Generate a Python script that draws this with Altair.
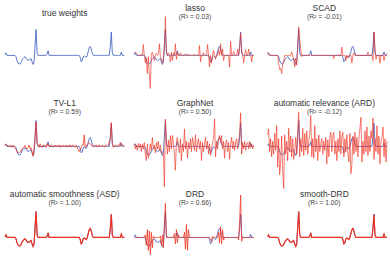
import altair as alt
import pandas as pd

BLUE = "#4a68c4"
RED = "#f0301e"

true_weights = [
    0.03, 0.1, 0.0, 0, 0, 0, 0, 0, 0, 0,
    0, -0.05, -0.2, -0.3, -0.33, -0.33, -0.28, -0.18, -0.12, -0.08,
    -0.05, -0.1, -0.17, -0.19, -0.18, -0.15, -0.12, -0.25, -0.35, -0.25,
    0.4, 1.0, 0.1, 0, 0, 0, 0, 0, 0, 0,
    0, 0, 0.05, 0.18, 0, 0, 0, 0, 0, 0,
    0, 0, 0, 0, 0, 0, 0, 0, 0, 0,
    0, 0, 0, 0, 0, 0, 0, 0, 0, 0,
    0, 0, 0, 0, 0, -0.08, -0.25, -0.2, -0.05, -0.02,
    -0.05, -0.08, 0.0, 0.15, 0.3, 0.35, 0.25, 0.08, 0, 0,
    0, 0, 0, 0, 0, 0, 0, 0, 0, 0,
    0, 0, 0, 0, 0, 0.35, 0.9, 0.1, 0, 0,
    0, 0, 0, 0, 0, 0, 0.13, 0, 0, 0,
]

lasso = [
    0.1, 0.12, 0.1, 0.05, 0, 0, 0, 0.05, 0, 0.42,
    0, -0.3, -0.1, -0.7, -0.05, -0.7, -1.28, 0.05, 0.12, -0.05,
    -0.2, 0.05, 0.08, 0, 0.05, 0.45, -0.05, -0.15, -0.3, -0.1,
    0.3, 1.5, 0.2, 0, 0.1, 0, -0.25, 0.12, -0.2, 0.1,
    0, 0.45, -0.15, 0.12, 0, 0, 0.1, 0, 0, 0,
    0.05, 0, 0.06, 0, 0.05, 0, 0, 0, 0, 0,
    0.05, 0, 0, 0, 0, 0.38, -0.25, 0, 0, 0.1,
    0, 0, 0, 0.42, 0, -0.45, 0, -0.3, 0, 0.2,
    0, -0.15, 0, 0, 0.2, 0, 0.45, 0, 0.25, -0.2,
    0, 0, 0, 0, 0, -0.45, 0.55, 0, 0, 0.15,
    0, 0, 0, 0.25, 0, 0.3, 0.86, 0.2, 0, -0.3,
    0, 0.22, 0, 0, 0.25, 0, 0, -0.25, 0, 0,
]

scad = [
    0.13, 0.05, 0, 0, 0, 0, 0, 0, 0, 0,
    0, -0.3, -0.55, -0.5, -0.7, -0.35, -0.2, 0, 0, 0,
    0, 0, 0, 0, 0.13, 0, -0.2, -0.45, -0.1, -0.38,
    0.3, 1.1, 0.6, 0.25, -0.05, 0, 0, 0, 0, 0,
    0, 0, 0, 0, 0, 0, 0, 0, 0, 0,
    0, 0, 0, 0, 0, 0, 0, 0, 0, 0,
    0, 0, 0, 0, 0, 0, -0.12, 0, 0, 0,
    0, 0, 0, 0, 0.32, 0, 0, 0, -0.2, 0,
    -0.1, 0, 0, 0, -0.3, 0, 0.1, 0, 0, 0,
    0, 0, 0, 0, 0, 0, 0, 0, 0, 0,
    0.13, 0, 0, 0, 0, -0.2, 0.9, 0.3, -0.15, 0,
    0, 0, -0.3, 0, 0, 0, -0.2, 0, 0, 0.08,
]

tv_l1 = [
    0.05, 0.08, 0.02, 0.04, -0.02, 0.03, 0.05, -0.03, 0.04, 0.02,
    -0.05, -0.12, -0.2, -0.22, -0.25, -0.2, -0.18, -0.1, -0.05, -0.03,
    0.04, -0.05, -0.1, -0.05, 0.05, -0.08, -0.05, -0.2, -0.38, -0.1,
    0.35, 0.95, 0.1, 0.06, -0.03, 0.1, 0.02, -0.04, 0.05, 0.03,
    0.04, -0.03, 0.1, 0.02, 0.05, -0.02, 0.06, 0.03, -0.03, 0.04,
    0.02, 0.05, -0.02, 0.03, 0.06, -0.04, 0.04, 0.02, 0.05, -0.02,
    0.03, 0.05, -0.03, 0.04, 0.02, 0.06, -0.03, 0.04, 0.05, 0.02,
    -0.03, 0.05, -0.02, -0.1, -0.2, -0.12, -0.05, 0.05, 0.05, 0.45,
    -0.05, 0.02, 0.08, 0.1, 0.13, 0.1, 0.05, 0.03, -0.02, 0.04,
    0.02, 0.05, -0.03, 0.04, 0.06, -0.02, 0.03, 0.05, 0.02, -0.03,
    0.04, 0.06, 0.02, 0.05, 0.2, 0.3, 0.92, 0.1, -0.03, 0.04,
    0.05, -0.02, 0.04, 0.06, 0.03, 0.15, 0.02, 0.05, 0.03, 0.02,
]

graphnet = [
    0.1, -0.1, 0.05, -0.15, 0.12, -0.05, 0.1, -0.2, 0.08, -0.1,
    0.15, -0.3, -0.55, 0.1, -0.45, -0.2, 0.1, -0.15, 0.35, -0.1,
    0.05, -0.25, 0.15, -0.1, 0.2, -0.15, 0.05, -0.25, -0.2, -0.3,
    -1.56, 1.06, 0.2, -0.3, 0.25, -0.2, 0.42, -0.1, 0.42, 0.1,
    -0.3, -0.92, 0.2, 0.35, -0.1, -0.25, 0.3, -0.55, 0.1, -0.2,
    0.68, -0.1, 0.2, -0.45, 0.15, -0.1, 0.3, -0.2, 0.35, 0.1,
    -0.15, 0.45, -0.2, 0.1, 0.3, -0.1, 0.2, -0.55, 0.15, -0.2,
    0.1, 0.35, -0.1, 0.2, -0.3, 0.1, -0.35, -0.1, 0.15, 0.3,
    1.06, -0.4, 0.2, -0.1, 0.3, 0.42, 0.15, 0.42, -0.1, 0.2,
    -0.45, 0.1, 0.25, -0.2, 0.15, -0.5, 0.1, 0.35, -0.1, 0.2,
    -0.15, 0.15, 0.3, -0.1, 0.2, 0.5, 1.3, -0.3, 0.15, -0.1,
    0.2, -0.15, 0.1, 0.15, -0.1, 0.2, -0.05, 0.1, -0.1, 0.05,
]

ard = [
    0.45, 0.68, -0.2, 0.3, -0.4, 0.2, -0.3, 0.5, -0.15, 0.8,
    -0.8, 0.3, -1.1, -0.6, 0.4, -0.9, -1.63, 0.45, -0.3, 0.2,
    -0.55, 0.7, -0.2, 0.4, -0.4, 0.3, -0.5, -0.2, 0.35, -0.3,
    0.6, 1.32, -0.4, 0.3, -0.2, 0.7, -0.35, 0.5, -0.15, 0.6,
    -0.3, 0.2, 0.5, 1.2, -0.4, 0.3, -0.45, 0.8, -0.2, 0.3,
    -0.55, 0.45, -0.2, 0.1, 0.3, -0.3, 0.2, -0.15, 0.35, -0.67,
    0.25, -0.4, 0.3, 0.55, -0.2, 0.4, 0.55, -0.3, 0.2, -0.55,
    0.3, -0.2, 0.6, -0.3, 0.4, 0.55, -0.4, 0.3, -0.2, 0.45,
    -0.3, -0.6, 0.5, -1.05, -0.7, 0.4, -0.3, 0.55, -0.2, 0.35,
    -0.4, 0.3, 0.7, 1.13, -0.6, 0.2, -0.3, 0.6, -0.2, 0.75,
    -0.35, 0.4, -0.2, 0.6, 0.3, 1.1, -0.5, 0.3, -0.2, 0.8,
    -0.3, 0.4, -0.67, 0.2, 0.35, 0.75, -0.4, 0.3, -0.6, 0.2,
]

asd = list(true_weights)

drd = [
    0, 0, 0, 0, 0, 0, 0, 0, 0, 0,
    0, 0.1, -0.3, 0.3, -0.5, 0.25, -0.67, 0.2, -0.4, 0.05,
    0, 0, 0, 0, 0, 0, 0.05, -0.3, 0.1, -0.4,
    0.5, 1.32, 0, 0, 0, 0, 0, 0, 0, 0,
    0.15, -0.25, 0.3, -0.2, 0.1, 0, 0, 0, 0, 0,
    0.2, -0.45, 0.5, -0.5, 0.3, 0, 0, 0, 0, 0,
    0, 0, 0, 0, 0, 0, 0, 0, 0, 0,
    0, 0, 0, 0, 0, 0, -0.05, -0.15, 0.05, 0,
    0, 0, 0, 0, 0.2, -0.2, 0.42, -0.25, 0.3, -0.1,
    0, 0, 0, 0, 0, 0, 0, 0, 0, 0,
    0, 0, 0, 0, -0.1, 0.6, 1.64, -0.15, 0, 0,
    0, 0, 0, 0, 0, 0, 0, 0, 0, 0,
]

smooth_drd = list(true_weights)

titles = [
    "true weights", "lasso", "SCAD",
    "TV-L1", "GraphNet", "automatic relevance (ARD)",
    "automatic smoothness (ASD)", "DRD", "smooth-DRD",
]
r2_labels = [
    None, "(R\u00b2 = 0.03)", "(R\u00b2 = -0.01)",
    "(R\u00b2 = 0.59)", "(R\u00b2 = 0.50)", "(R\u00b2 = -0.12)",
    "(R\u00b2 = 1.00)", "(R\u00b2 = 0.66)", "(R\u00b2 = 1.00)",
]
estimates = [None, lasso, scad, tv_l1, graphnet, ard, asd, drd, smooth_drd]
red_opacity = [0, 0.8, 0.8, 0.85, 0.8, 0.8, 1.0, 0.85, 1.0]
red_width = [0, 0.8, 0.8, 0.9, 0.8, 0.8, 1.2, 0.9, 1.2]

FONT = "Liberation Sans"


def panel(idx):
    row, col = divmod(idx, 3)
    est = estimates[idx]
    rows = [{"t": i, "v": v, "s": "true"} for i, v in enumerate(true_weights)]
    if est is not None:
        rows += [{"t": i, "v": v, "s": "est"} for i, v in enumerate(est)]
    df = pd.DataFrame(rows)
    xdom = [2, 121] if col == 1 else [0, 119]
    xs = alt.Scale(domain=xdom, nice=False, zero=False)
    ys = alt.Scale(domain=[-1, 1], nice=False, zero=False)
    enc = dict(
        x=alt.X("t:Q", scale=xs, axis=None),
        y=alt.Y("v:Q", scale=ys, axis=None),
        order="t:Q",
    )
    base = alt.Chart(df)
    layers = [
        base.transform_filter(alt.datum.s == "true")
        .mark_line(color=BLUE, strokeWidth=0.9, clip=False)
        .encode(**enc)
    ]
    if est is not None:
        layers.append(
            base.transform_filter(alt.datum.s == "est")
            .mark_line(color=RED, strokeWidth=red_width[idx],
                       opacity=red_opacity[idx], clip=False)
            .encode(**enc)
        )
    tx = [60, 59, 57][col]
    sub = r2_labels[idx]
    if sub is None:
        ty = -17
    else:
        ty = -22 if row == 0 else -18
    lab = pd.DataFrame({"title": [titles[idx]], "sub": [sub or ""]})
    layers.append(
        alt.Chart(lab)
        .mark_text(font=FONT, fontSize=8.5, color="#333333", baseline="middle", align="center")
        .encode(text="title:N", x=alt.value(tx), y=alt.value(ty))
    )
    if sub is not None:
        layers.append(
            alt.Chart(lab)
            .mark_text(font=FONT, fontSize=6.8, color="#444444", baseline="middle", align="center")
            .encode(text="sub:N", x=alt.value(tx), y=alt.value(ty + 9))
        )
    return alt.layer(*layers).properties(width=120, height=52)


chart = (
    alt.concat(
        *[panel(i) for i in range(9)],
        columns=3,
        spacing=alt.RowColnumber(row=39.5, column=12),
        bounds="flush",
    )
    .properties(padding={"left": 2, "top": 3, "right": 0, "bottom": 0}, background="white")
    .configure_view(stroke=None)
)

chart.save("out.html", embed_options={"renderer": "svg", "actions": False})
